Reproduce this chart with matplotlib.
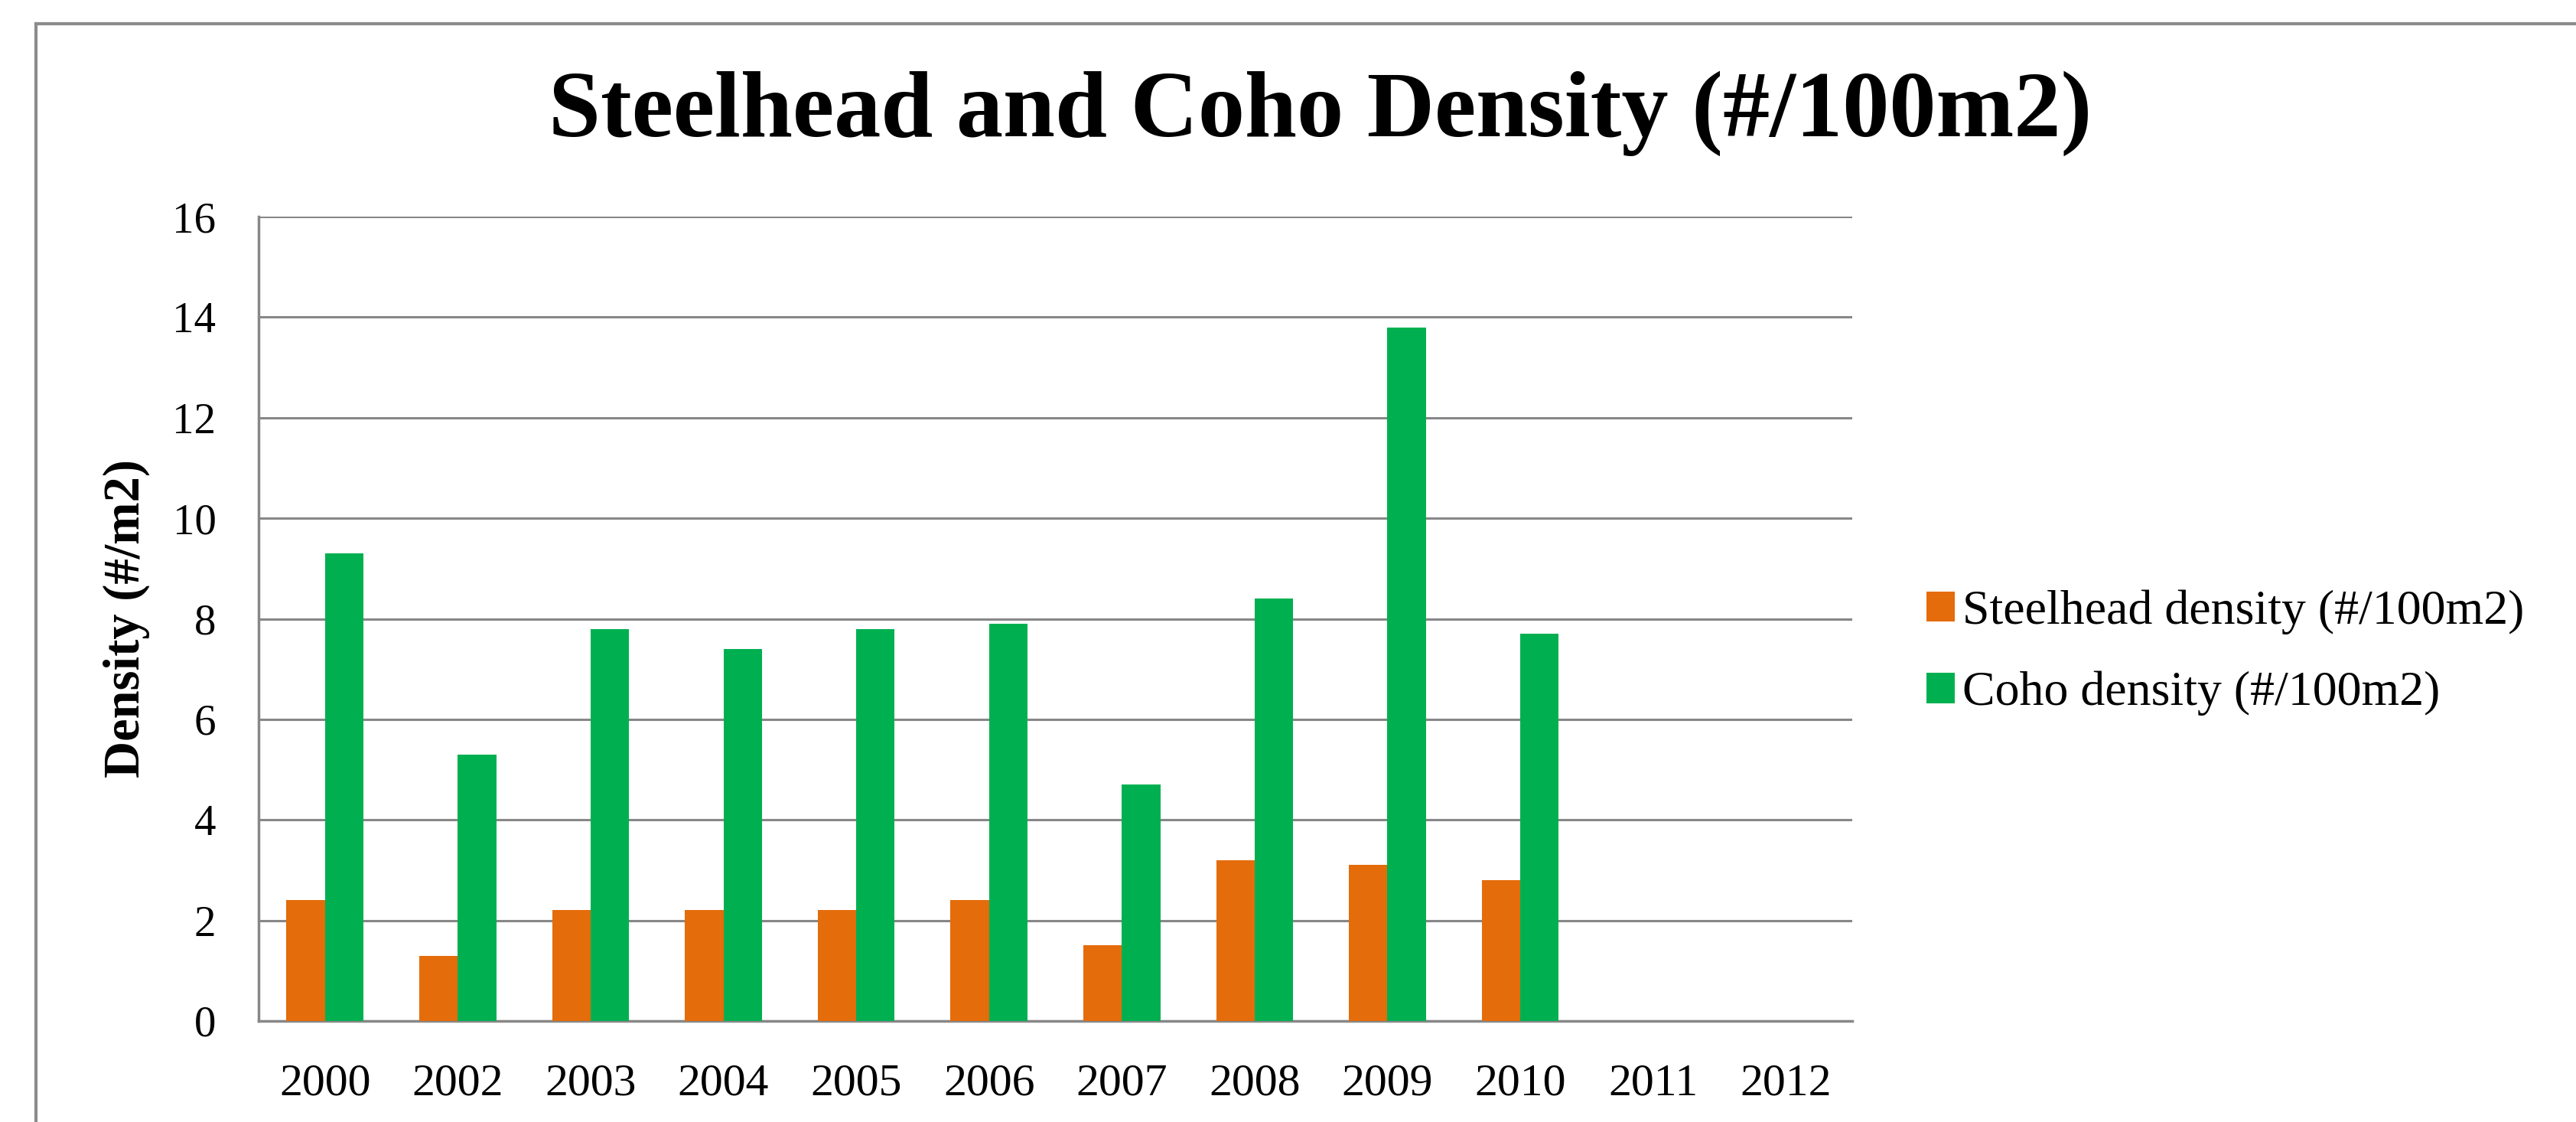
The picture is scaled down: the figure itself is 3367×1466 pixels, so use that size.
import matplotlib
matplotlib.use("Agg")
import matplotlib.pyplot as plt
import numpy as np
from matplotlib.lines import Line2D
from matplotlib.patches import Patch

years = ["2000", "2002", "2003", "2004", "2005", "2006", "2007", "2008", "2009", "2010", "2011", "2012"]
steelhead = [2.4, 1.3, 2.2, 2.2, 2.2, 2.4, 1.5, 3.2, 3.1, 2.8, np.nan, np.nan]
coho = [9.3, 5.3, 7.8, 7.4, 7.8, 7.9, 4.7, 8.4, 13.8, 7.7, np.nan, np.nan]
series_names = ["Steelhead density (#/100m2)", "Coho density (#/100m2)"]
yticks = [0, 2, 4, 6, 8, 10, 12, 14, 16]

ORANGE = "#E46C0A"
GREEN = "#00B050"
GRID = "#878787"
SERIF = ["Liberation Serif", "DejaVu Serif"]

W, H = 3367, 1466
fig = plt.figure(figsize=(W / 100, H / 100), dpi=100)
fig.patch.set_facecolor("white")

ax = fig.add_axes([338 / W, 1 - 1334 / H, (2421 - 338) / W, (1334 - 283) / H])
x = np.arange(len(years))
bw = 0.29
ax.bar(x - bw / 2, steelhead, width=bw, color=ORANGE, label=series_names[0], zorder=3)
ax.bar(x + bw / 2, coho, width=bw, color=GREEN, label=series_names[1], zorder=3)

ax.set_xlim(-0.5, len(years) - 0.5)
ax.set_ylim(0, 16)
ax.set_yticks(yticks)
ax.set_yticklabels([str(v) for v in yticks], fontfamily=SERIF, fontsize=41)
ax.set_xticks(x)
ax.set_xticklabels(years, fontfamily=SERIF, fontsize=43)
ax.tick_params(axis="both", length=0)
ax.tick_params(axis="y", pad=40)
ax.tick_params(axis="x", pad=40)
ax.yaxis.grid(True, color=GRID, linewidth=2.2, zorder=0)
ax.set_axisbelow(True)
for s in ["top", "right"]:
    ax.spines[s].set_visible(False)
for s in ["left", "bottom"]:
    ax.spines[s].set_color(GRID)
    ax.spines[s].set_linewidth(2.5)

fig.text(165 / W, 1 - 808 / H, "Density (#/m2)", rotation=90, ha="center", va="center",
         fontfamily=SERIF, fontweight="bold", fontsize=48)

fig.text(1726 / W, 1 - 148 / H, "Steelhead and Coho Density (#/100m2)", ha="center", va="center",
         fontfamily=SERIF, fontweight="bold", fontsize=88)

handles = [Patch(facecolor=ORANGE), Patch(facecolor=GREEN)]
fig.legend(handles, series_names, loc="center left", bbox_to_anchor=(2518 / W, 1 - 853 / H),
           frameon=False, prop={"family": SERIF, "size": 46},
           handlelength=0.58, handleheight=0.58, handletextpad=0.15, labelspacing=0.75,
           borderpad=0, borderaxespad=0)

# outer chart border (top and left visible)
fig.add_artist(Line2D([47 / W, 1.0], [1 - 31 / H, 1 - 31 / H], transform=fig.transFigure,
                      color="#8c8c8c", linewidth=3))
fig.add_artist(Line2D([47 / W, 47 / W], [0.0, 1 - 31 / H], transform=fig.transFigure,
                      color="#8c8c8c", linewidth=3))

fig.savefig("out.png", dpi=100, facecolor="white")
